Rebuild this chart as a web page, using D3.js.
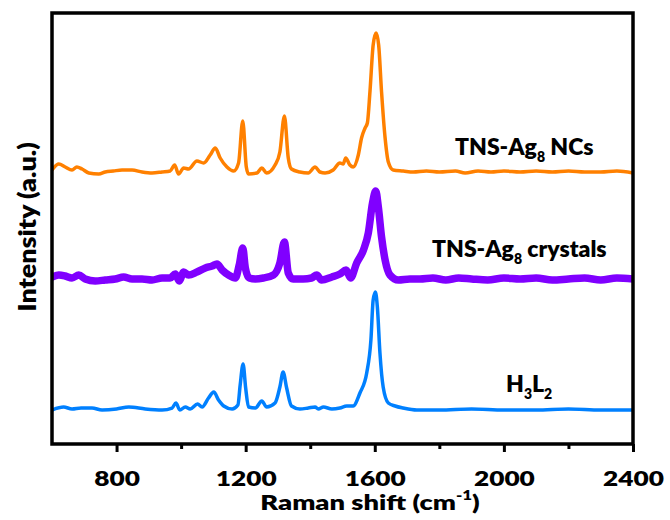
<!DOCTYPE html>
<html>
<head>
<meta charset="utf-8">
<script src="https://cdn.jsdelivr.net/npm/d3@7"></script>
<style>
  html, body { margin: 0; padding: 0; background: #fff; }
  svg text { font-family: Lato, "Open Sans", sans-serif; font-weight: 800; fill: #000; }
</style>
</head>
<body>
<svg id="chart" width="670" height="520"></svg>
<script>
// Raman spectra (intensity in a.u., baseline near 0), stacked with vertical offsets
const ncShift = [600,621,641,662,677,693,714,745,765,790,817,848,879,910,941,966,980,992,1008,1023,1049,1070,1090,1106,1121,1142,1163,1178,1191,1202,1209,1235,1250,1265,1291,1306,1320,1332,1342,1368,1394,1415,1430,1446,1471,1492,1502,1510,1523,1533,1549,1559,1570,1577,1585,1595,1604,1612,1621,1632,1642,1657,1688,1719,1760,1800,1850,1880,1920,1960,2000,2050,2100,2150,2200,2250,2300,2350,2400];
const ncIntensity = [2,8,5,2,5,3,-1,-2,0,1,2,2,0,-1,0,1,7,-2,4,3,11,9,17,24,14,5,1,9,51,5,-2,-1,4,-1,7,20,56,14,3,0,-1,5,0,-1,2,9,8,14,7,5,17,34,44,49,80,127,139,127,80,34,10,2,1,0,1,0,1,-1,1,0,1,0,1,0,1,0,0,1,-1];

const crShift = [600,621,641,662,683,703,734,765,796,822,848,879,910,941,966,982,994,1008,1023,1049,1075,1096,1111,1127,1147,1168,1180,1191,1199,1211,1230,1255,1286,1306,1320,1332,1347,1378,1404,1420,1435,1467,1492,1511,1525,1544,1565,1580,1593,1603,1611,1621,1632,1647,1673,1709,1740,1780,1820,1860,1900,1950,2000,2050,2100,2150,2200,2250,2300,2350,2400];
const crIntensity = [2,4,3,1,4,0,-2,-1,0,2,0,0,-1,1,1,5,-2,7,4,7,11,13,15,9,4,1,14,31,11,1,0,1,4,16,37,6,0,0,1,4,-1,2,5,9,1,16,29,46,76,88,72,42,19,4,-1,0,0,1,-1,1,0,-1,1,0,1,-1,0,1,-1,1,0];

const hlShift = [600,636,662,690,724,755,800,838,889,941,972,984,996,1013,1028,1051,1065,1085,1101,1116,1132,1158,1176,1183,1192,1200,1209,1230,1250,1265,1291,1306,1316,1327,1342,1368,1394,1415,1425,1441,1467,1492,1513,1533,1554,1575,1588,1595,1602,1608,1616,1626,1642,1663,1688,1730,1800,1900,2000,2100,2200,2300,2400];
const hlIntensity = [0,3,1,2,2,0,1,3,1,0,2,7,0,3,1,6,3,12,18,10,4,1,5,25,46,22,3,2,9,3,7,23,38,22,4,1,2,3,1,3,1,2,4,4,17,37,70,110,118,103,57,23,7,4,2,0,0,1,0,0,1,0,0];

const seriesOffsets = [272, 165, 34];
const seriesColors = ["#FF8000", "#8000FF", "#0080FF"];
const seriesNames = [["TNS-Ag", "8", " NCs"], ["TNS-Ag", "8", " crystals"], ["H", "3", "L", "2"]];

const xTicks = [800, 1200, 1600, 2000, 2400];
const xMinorTicks = [1000, 1400, 1800, 2200];

const svg = d3.select("#chart");
const plot = { left: 52, right: 633, top: 13, bottom: 444 };

const x = d3.scaleLinear().domain([600, 2400]).range([plot.left, plot.right]);
const y = d3.scaleLinear().domain([0, 431]).range([plot.bottom, plot.top]);

svg.append("defs").append("clipPath").attr("id", "plotClip")
  .append("rect")
  .attr("x", plot.left).attr("y", plot.top)
  .attr("width", plot.right - plot.left).attr("height", plot.bottom - plot.top);

const spectra = [
  { shift: ncShift, intensity: ncIntensity, width: 3.5 },
  { shift: crShift, intensity: crIntensity, width: 7.5 },
  { shift: hlShift, intensity: hlIntensity, width: 3.5 }
];

const gLines = svg.append("g").attr("clip-path", "url(#plotClip)");
spectra.forEach((s, i) => {
  const pts = s.shift.map((w, k) => [w, s.intensity[k] + seriesOffsets[i]]);
  const line = d3.line()
    .x(d => x(d[0]))
    .y(d => y(d[1]))
    .curve(d3.curveMonotoneX);
  gLines.append("path")
    .datum(pts)
    .attr("d", line)
    .attr("fill", "none")
    .attr("stroke", seriesColors[i])
    .attr("stroke-width", s.width)
    .attr("stroke-linejoin", "round")
    .attr("stroke-linecap", "round");
});

// Bottom axis: major ticks with labels, minor ticks without
const xAxis = d3.axisBottom(x).tickValues(xTicks).tickSize(8).tickPadding(19).tickFormat(d3.format("d"));
const gx = svg.append("g").attr("transform", `translate(0,${plot.bottom})`).call(xAxis);
gx.select(".domain").remove();
gx.selectAll(".tick line").attr("stroke", "#000").attr("stroke-width", 3);
gx.selectAll(".tick text")
  .attr("font-size", 21)
  .attr("transform", "scale(1.25,1)")
  .style("font-family", "Lato, sans-serif")
  .style("font-weight", 800);

const xMinor = d3.axisBottom(x).tickValues(xMinorTicks).tickSize(5).tickFormat("");
const gxm = svg.append("g").attr("transform", `translate(0,${plot.bottom})`).call(xMinor);
gxm.select(".domain").remove();
gxm.selectAll(".tick line").attr("stroke", "#000").attr("stroke-width", 3);

// Frame
svg.append("rect")
  .attr("x", plot.left).attr("y", plot.top)
  .attr("width", plot.right - plot.left).attr("height", plot.bottom - plot.top)
  .attr("fill", "none").attr("stroke", "#000").attr("stroke-width", 3.5);

// Axis titles
const xt = svg.append("text")
  .attr("transform", "translate(370,510) scale(1.3,1)")
  .attr("text-anchor", "middle")
  .attr("font-size", 21);
xt.append("tspan").text("Raman shift (cm");
xt.append("tspan").text("-1").attr("font-size", 13).attr("dy", -10);
xt.append("tspan").text(")").attr("dy", 10);

svg.append("text")
  .attr("transform", "translate(36,227) rotate(-90) scale(1.12,1)")
  .attr("text-anchor", "middle")
  .attr("font-size", 24)
  .text("Intensity (a.u.)");

// Spectrum labels with subscripts
const labelPos = [[455, 155], [432, 257], [506, 392]];
seriesNames.forEach((parts, i) => {
  const t = svg.append("text").attr("x", labelPos[i][0]).attr("y", labelPos[i][1]).attr("font-size", 23);
  parts.forEach((p, k) => {
    const isSub = k % 2 === 1;
    const ts = t.append("tspan").text(p);
    if (isSub) ts.attr("font-size", 14).attr("dy", 7);
    else if (k > 0) ts.attr("dy", -7);
  });
});
</script>
</body>
</html>
